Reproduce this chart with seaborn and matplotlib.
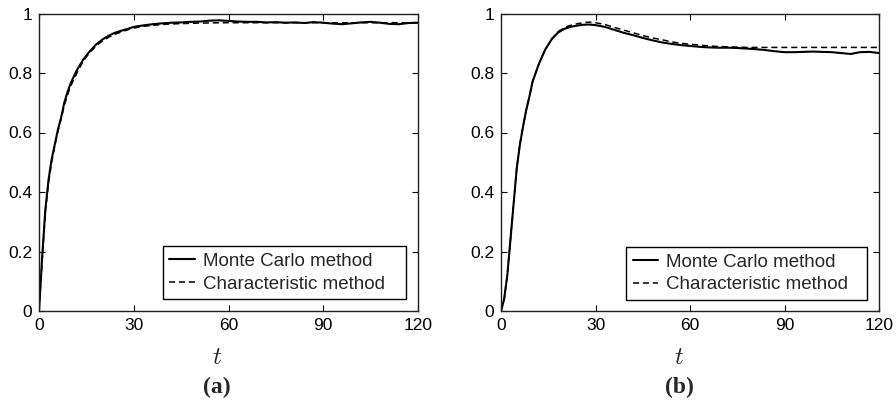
import matplotlib
matplotlib.use("Agg")
import matplotlib.pyplot as plt
import seaborn as sns

# ---------------- data ----------------
t_vals = [0, 1, 2, 3, 4, 5, 6, 7, 8, 9, 10, 12, 14, 16, 18, 20, 22, 24, 26, 28,
          30, 33, 36, 39, 42, 45, 48, 51, 54, 57, 60, 63, 66, 69, 72, 75, 78,
          81, 84, 87, 90, 93, 96, 99, 102, 105, 108, 111, 114, 117, 120]

mc_a = [0, 0.18, 0.34, 0.44, 0.51, 0.56, 0.61, 0.65, 0.70, 0.735, 0.765, 0.81,
        0.845, 0.872, 0.895, 0.912, 0.925, 0.935, 0.942, 0.948, 0.955, 0.960,
        0.964, 0.967, 0.969, 0.970, 0.972, 0.973, 0.976, 0.977, 0.975, 0.973,
        0.972, 0.972, 0.970, 0.971, 0.969, 0.970, 0.968, 0.971, 0.969, 0.966,
        0.964, 0.967, 0.970, 0.972, 0.969, 0.965, 0.964, 0.968, 0.969]

ch_a = [0, 0.17, 0.33, 0.43, 0.50, 0.555, 0.605, 0.645, 0.69, 0.725, 0.755, 0.80,
        0.84, 0.868, 0.89, 0.907, 0.920, 0.930, 0.938, 0.945, 0.951, 0.957,
        0.960, 0.963, 0.965, 0.966, 0.967, 0.968, 0.968, 0.969, 0.969, 0.969,
        0.969, 0.969, 0.969, 0.969, 0.969, 0.969, 0.969, 0.969, 0.969, 0.969,
        0.969, 0.969, 0.969, 0.969, 0.969, 0.969, 0.969, 0.969, 0.969]

mc_b = [0, 0.04, 0.12, 0.24, 0.36, 0.48, 0.56, 0.62, 0.675, 0.72, 0.77, 0.83,
        0.878, 0.912, 0.935, 0.948, 0.955, 0.959, 0.962, 0.963, 0.961, 0.955,
        0.945, 0.935, 0.927, 0.918, 0.910, 0.903, 0.898, 0.894, 0.891, 0.888,
        0.886, 0.885, 0.885, 0.884, 0.882, 0.880, 0.877, 0.873, 0.870, 0.870,
        0.871, 0.872, 0.871, 0.870, 0.867, 0.864, 0.870, 0.871, 0.867]

ch_b = [0, 0.04, 0.12, 0.24, 0.36, 0.48, 0.56, 0.62, 0.675, 0.72, 0.77, 0.83,
        0.878, 0.914, 0.938, 0.952, 0.960, 0.965, 0.969, 0.971, 0.969, 0.963,
        0.953, 0.944, 0.935, 0.926, 0.918, 0.912, 0.905, 0.900, 0.897, 0.894,
        0.891, 0.889, 0.888, 0.887, 0.886, 0.886, 0.886, 0.886, 0.886, 0.886,
        0.886, 0.886, 0.886, 0.886, 0.886, 0.886, 0.886, 0.886, 0.886]

x_ticks = [0, 30, 60, 90, 120]
y_ticks = [0, 0.2, 0.4, 0.6, 0.8, 1.0]
y_ticklabels = ["0", "0.2", "0.4", "0.6", "0.8", "1"]
panel_labels = ["(a)", "(b)"]
series_names = ["Monte Carlo method", "Characteristic method"]

# ---------------- style ----------------
sns.set_style("ticks")
plt.rcParams["font.family"] = ["Liberation Sans", "DejaVu Sans"]
plt.rcParams["mathtext.fontset"] = "cm"

fig = plt.figure(figsize=(8.96, 4.01), dpi=100)
ax_a = fig.add_axes([39 / 896, 90 / 401, 379 / 896, 297.5 / 401])
ax_b = fig.add_axes([501 / 896, 90 / 401, 378 / 896, 297.5 / 401])

label_x_px = [217, 679]
legend_boxes = [(0.327, 0.040, 0.641, 0.175), (0.331, 0.037, 0.638, 0.178)]

panels = [(ax_a, mc_a, ch_a), (ax_b, mc_b, ch_b)]
for i, (ax, mc, ch) in enumerate(panels):
    sns.lineplot(x=t_vals, y=mc, ax=ax, color="black", lw=1.5,
                 label=series_names[0])
    sns.lineplot(x=t_vals, y=ch, ax=ax, color="black", lw=1.1,
                 linestyle=(0, (4, 2.5)), label=series_names[1])
    ax.set_xlim(0, 120)
    ax.set_ylim(0, 1)
    ax.set_xticks(x_ticks)
    ax.set_xticklabels([str(v) for v in x_ticks])
    ax.set_yticks(y_ticks)
    ax.set_yticklabels(y_ticklabels)
    ax.tick_params(direction="in", length=4, width=0.8, top=True, right=True,
                   labelsize=12.5, colors="black", pad=5)
    for s in ax.spines.values():
        s.set_visible(True)
        s.set_linewidth(1.0)
        s.set_color("#222222")
    ax.set_ylabel("")
    ax.set_xlabel(r"$t$", fontsize=18)
    pos = ax.get_position()
    lx = (label_x_px[i] / 896 - pos.x0) / pos.width
    ax.xaxis.set_label_coords(lx, (311 - 357) / 297.5)
    ax.xaxis.label.set_va("center")
    leg = ax.legend(loc="lower left", bbox_to_anchor=legend_boxes[i],
                    mode="expand", borderaxespad=0, fontsize=13.5,
                    frameon=True, fancybox=False, edgecolor="black",
                    framealpha=1, handlelength=1.35, handletextpad=0.45,
                    borderpad=0.35, labelspacing=0.3)
    leg.get_frame().set_linewidth(1.0)
    fig.text(label_x_px[i] / 896, 1 - 387 / 401, panel_labels[i],
             ha="center", va="center", fontsize=17, fontweight="bold",
             family=["Liberation Serif", "DejaVu Serif"])

fig.savefig("out.png", dpi=100)
